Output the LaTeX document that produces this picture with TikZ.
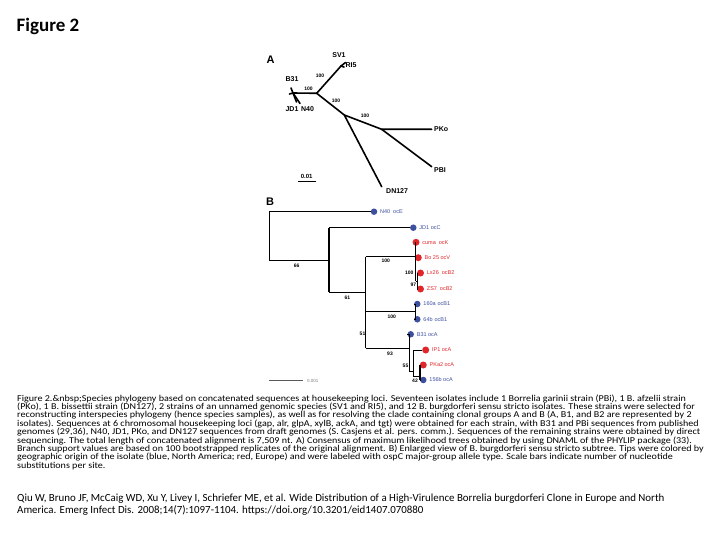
\documentclass[tikz,border=0pt]{standalone}
\usepackage{fontspec}
\setmainfont{Carlito}
\newfontfamily\arialf{Liberation Sans}
\definecolor{blueB}{HTML}{3D4F9F}
\definecolor{redB}{HTML}{E0262B}
\newcommand{\capw}[1]{\scalebox{1.12}[1]{#1}}
\begin{document}
\begin{tikzpicture}[x=1pt,y=-1pt,
  capline/.style={anchor=base west,inner sep=0pt,font=\fontsize{9}{9}\selectfont},
  citeline/.style={anchor=base west,inner sep=0pt,font=\fontsize{10.9}{10.9}\selectfont},
  brA/.style={line width=1.6pt,line cap=round,line join=round},
  brB/.style={line width=1.2pt},
  brb/.style={line width=0.7pt},
  lblA/.style={inner sep=0pt,font=\arialf\bfseries\fontsize{7}{7}\selectfont},
  bsA/.style={inner sep=0pt,font=\arialf\bfseries\fontsize{5}{5}\selectfont},
  bsB/.style={inner sep=0pt,font=\arialf\bfseries\fontsize{5}{5}\selectfont},
  tipb/.style={anchor=west,inner sep=0pt,xshift=2.5pt,text=blueB,font=\arialf\fontsize{5.5}{5.5}\selectfont},
  tipr/.style={anchor=west,inner sep=0pt,xshift=2.5pt,text=redB,font=\arialf\fontsize{5.5}{5.5}\selectfont},
  dotb/.style={circle,fill=blueB,inner sep=0pt,minimum size=6.5pt},
  dotr/.style={circle,fill=redB,inner sep=0pt,minimum size=7pt}]
\useasboundingbox (0,0) rectangle (720,540);
\fill[white] (0,0) rectangle (720,540);

% Title
\node[anchor=base west,inner sep=0pt,font=\bfseries\fontsize{19}{19}\selectfont] (title) at (16.5,31.5) {Figure 2};

% ---------------- Tree A ----------------
\node[inner sep=0pt,font=\arialf\bfseries\fontsize{11}{11}\selectfont] (labA) at (270.7,59.5) {A};
\coordinate (J1) at (316.7,93.3);
\coordinate (cSV) at (341,66);
\coordinate (tSV1) at (345.5,62.5);
\coordinate (tRI5) at (344,67);
\coordinate (cB) at (293,93);
\coordinate (tB31) at (291,88);
\coordinate (tX) at (289.5,94);
\coordinate (tJD1) at (296.5,102);
\coordinate (tN40) at (300,103.5);
\coordinate (J2) at (344.3,115);
\coordinate (J3) at (381.7,129.3);
\coordinate (tPKo) at (431.7,129.3);
\coordinate (tPBI) at (431.7,166.7);
\coordinate (tDN) at (381.7,186.7);
\draw[brA] (J1) -- (cSV) -- (tSV1);
\draw[brA] (cSV) -- (tRI5);
\draw[brA] (J1) -- (cB) -- (tB31);
\draw[brA] (cB) -- (tX);
\draw[brA] (cB) -- (tJD1);
\draw[brA] (cB) -- (tN40);
\draw[brA] (J1) -- (J2) -- (J3) -- (tPKo);
\draw[brA] (J3) -- (tPBI);
\draw[brA] (J2) -- (tDN);
\node[lblA] (lSV1) at (339,55) {SV1};
\node[lblA] (lRI5) at (351,65.5) {RI5};
\node[lblA] (lB31) at (292,79) {B31};
\node[lblA] (lJD1) at (292,109.5) {JD1};
\node[lblA] (lN40A) at (307.5,109.5) {N40};
\node[lblA,anchor=west] (lPKo) at (434,129.5) {PKo};
\node[lblA,anchor=west] (lPBI) at (434,170) {PBI};
\node[lblA,anchor=west] (lDN) at (386,191) {DN127};
\node[bsA] (bA1) at (320,76) {100};
\node[bsA] (bA2) at (308.5,89) {100};
\node[bsA] (bA3) at (336,101) {100};
\node[bsA] (bA4) at (365,116) {100};
\coordinate (sbA1) at (298,181.5);
\coordinate (sbA2) at (315.5,181.5);
\draw[line width=1.3pt] (sbA1) -- (sbA2);
\node[bsA,font=\arialf\bfseries\fontsize{6}{6}\selectfont] (sclA) at (306.7,176) {0.01};

% ---------------- Tree B ----------------
\node[inner sep=0pt,font=\arialf\bfseries\fontsize{11}{11}\selectfont] (labB) at (270,201.5) {B};
\coordinate (r0) at (269.3,211.7);
\coordinate (r1) at (269.3,260.7);
\coordinate (n66a) at (329,227.7);
\coordinate (n66m) at (329,260.7);
\coordinate (n66b) at (329,292.3);
\coordinate (n61a) at (365.7,256.7);
\coordinate (n61m) at (365.7,292.3);
\coordinate (n51a) at (365.7,311.7);
\coordinate (n51b) at (365.7,348.3);
\coordinate (nR1) at (415.7,242.3);
\coordinate (nRm) at (415.7,256.7);
\coordinate (nR2) at (415.7,281);
\coordinate (nS1) at (417.3,273);
\coordinate (nS2) at (417.3,289);
\coordinate (nC1) at (415.7,304);
\coordinate (nCm) at (415.7,311.7);
\coordinate (nC2) at (415.7,319.3);
\coordinate (n93t) at (409.3,334.3);
\coordinate (n93m) at (409.3,348.3);
\coordinate (n93b) at (409.3,371.7);
\coordinate (nIa) at (413.3,350);
\coordinate (nIm) at (413.3,371.7);
\coordinate (nIb) at (413.3,376.7);
\coordinate (nPa) at (420,365);
\coordinate (nPm) at (420,376.7);
\coordinate (nPb) at (420,380);
\node[dotb] (dN40) at (374,211.7) {};
\node[dotb] (dJD1) at (413.3,227.7) {};
\node[dotr] (dcuma) at (416,242.3) {};
\node[dotr] (dBo) at (418.3,257.7) {};
\node[dotr] (dLx) at (420.5,273) {};
\node[dotr] (dZS) at (420.5,289) {};
\node[dotb] (d160) at (417.3,304) {};
\node[dotb] (d64) at (417.3,319.3) {};
\node[dotb] (dB31) at (410.7,334.3) {};
\node[dotr] (dIP1) at (425.7,350) {};
\node[dotr] (dPKa) at (423.3,365) {};
\node[dotb] (d156) at (423.3,380) {};
\draw[brb] (r0) -- (r1);
\draw[brB] (r0) -- (dN40);
\draw[brB] (r1) -- (n66m);
\draw[line width=1.8pt] (n66a) -- (n66b);
\draw[brB] (n66a) -- (dJD1);
\draw[brB] (n66b) -- (n61m);
\draw[brb] (n61a) -- (n51a);
\draw[line width=1.5pt] (n51a) -- (n51b);
\draw[brB] (n61a) -- (nRm);
\draw[line width=1.5pt] (nR1) -- (nR2);
\draw[brb] (nRm) -- (dBo);
\draw[brb] (nR2) -- (nS1 |- nR2);
\draw[line width=1.5pt] (nS1) -- (nS2);
\draw[brb] (nS1) -- (dLx);
\draw[brb] (nS2) -- (dZS);
\draw[brB] (n51a) -- (nCm);
\draw[brB] (nC1) -- (nC2);
\draw[brb] (nC1) -- (d160);
\draw[brb] (nC2) -- (d64);
\draw[brB] (n51b) -- (n93m);
\draw[brb] (n93t) -- (n93b);
\draw[brb] (n93t) -- (dB31);
\draw[brb] (n93b) -- (nIm);
\draw[brb] (nIa) -- (nIb);
\draw[brb] (nIa) -- (dIP1);
\draw[brB] (nIb) -- (nPm);
\draw[brB] (nPa) -- (nPb);
\draw[brb] (nPa) -- (dPKa);
\draw[brb] (nPb) -- (d156);
\node[tipb] (tlN40) at (dN40.east) {N40\hspace{3pt}ocE};
\node[tipb] (tlJD1) at (dJD1.east) {JD1 ocC};
\node[tipr] (tlcuma) at (dcuma.east) {cuma\hspace{3pt}ocK};
\node[tipr] (tlBo) at (dBo.east) {Bo 25 ocV};
\node[tipr] (tlLx) at (dLx.east) {Lx26\hspace{3pt}ocB2};
\node[tipr] (tlZS) at (dZS.east) {ZS7\hspace{3pt}ocB2};
\node[tipb] (tl160) at (d160.east) {160a\hspace{2pt}ocB1};
\node[tipb] (tl64) at (d64.east) {64b\hspace{2pt}ocB1};
\node[tipb] (tlB31) at (dB31.east) {B31 ocA};
\node[tipr] (tlIP1) at (dIP1.east) {IP1 ocA};
\node[tipr] (tlPKa) at (dPKa.east) {PKa2 ocA};
\node[tipb] (tl156) at (d156.east) {156b ocA};
\node[bsB] (bB66) at (296.7,265.5) {66};
\node[bsB] (bB61) at (347.3,297.5) {61};
\node[bsB] (bB100a) at (385.7,261) {100};
\node[bsB] (bB100b) at (409.3,272.7) {100};
\node[bsB] (bB97) at (413.3,284.3) {97};
\node[bsB] (bB51) at (362.5,334) {51};
\node[bsB] (bB100c) at (391.7,316.7) {100};
\node[bsB] (bB93) at (390,353.5) {93};
\node[bsB] (bB55) at (405.5,366) {55};
\node[bsB] (bB42) at (415,380.5) {42};
\coordinate (sbB1) at (269,380.7);
\coordinate (sbB2) at (303.3,380.7);
\draw[line width=0.6pt,gray!70!black] (sbB1) -- (sbB2);
\node[inner sep=0pt,anchor=west,text=gray,font=\arialf\fontsize{4.5}{4.5}\selectfont] (sclB) at (307,381) {0.001};

% ---------------- Caption ----------------
\node[capline] (c1) at (17,401) {\capw{Figure 2.\&nbsp;Species phylogeny based on concatenated sequences at housekeeping loci. Seventeen isolates include 1 Borrelia garinii strain (PBi), 1 B. afzelii strain}};
\node[capline] (c2) at (17,409.4) {\capw{(PKo), 1 B. bissettii strain (DN127), 2 strains of an unnamed genomic species (SV1 and RI5), and 12 B. burgdorferi sensu stricto isolates. These strains were selected for}};
\node[capline] (c3) at (17,417.8) {\capw{reconstructing interspecies phylogeny (hence species samples), as well as for resolving the clade containing clonal groups A and B (A, B1, and B2 are represented by 2}};
\node[capline] (c4) at (17,426.2) {\capw{isolates). Sequences at 6 chromosomal housekeeping loci (gap, alr, glpA, xylB, ackA, and tgt) were obtained for each strain, with B31 and PBi sequences from published}};
\node[capline] (c5) at (17,434.6) {\capw{genomes (29,36), N40, JD1, PKo, and DN127 sequences from draft genomes (S. Casjens et al. pers. comm.). Sequences of the remaining strains were obtained by direct}};
\node[capline] (c6) at (17,443) {\capw{sequencing. The total length of concatenated alignment is 7,509 nt. A) Consensus of maximum likelihood trees obtained by using DNAML of the PHYLIP package (33).}};
\node[capline] (c7) at (17,451.4) {\capw{Branch support values are based on 100 bootstrapped replicates of the original alignment. B) Enlarged view of B. burgdorferi sensu stricto subtree. Tips were colored by}};
\node[capline] (c8) at (17,459.8) {\capw{geographic origin of the isolate (blue, North America; red, Europe) and were labeled with ospC major-group allele type. Scale bars indicate number of nucleotide}};
\node[capline] (c9) at (17,468.2) {\capw{substitutions per site.}};
\node[citeline] (r1t) at (17,501.5) {Qiu W, Bruno JF, McCaig WD, Xu Y, Livey I, Schriefer ME, et al. Wide Distribution of a High-Virulence Borrelia burgdorferi Clone in Europe and North};
\node[citeline] (r2t) at (17,513) {America. Emerg Infect Dis. 2008;14(7):1097-1104. https://doi.org/10.3201/eid1407.070880};
\end{tikzpicture}
\end{document}
